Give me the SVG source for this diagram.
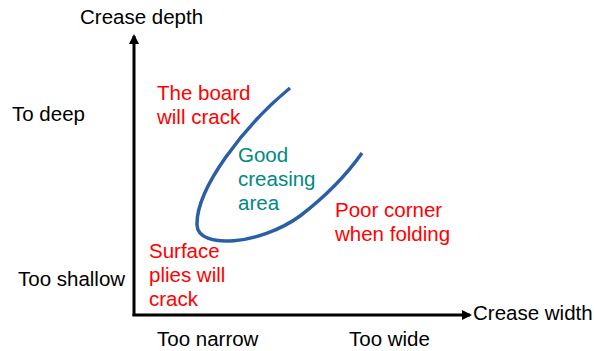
<svg xmlns="http://www.w3.org/2000/svg" width="594" height="351" viewBox="0 0 594 351">
<style>
text{font-family:"Liberation Sans",Arial,sans-serif;font-size:20.5px}
.k{fill:#000}
.r{fill:#ff0000}
.g{fill:#008a80}
</style>
<defs>
<marker id="ah" markerWidth="10" markerHeight="10" refX="8" refY="5" orient="auto" markerUnits="userSpaceOnUse" viewBox="0 0 10 10">
<path d="M0,0 L10,5 L0,10 z" fill="#000"/>
</marker>
</defs>
<rect width="594" height="351" fill="#fff"/>
<g id="connectors">
<path d="M134,316 L134,36" stroke="#000" stroke-width="3" fill="none" marker-end="url(#ah)"/>
<path d="M132.5,315 L470,315" stroke="#000" stroke-width="3" fill="none" marker-end="url(#ah)"/>
</g>
<g id="curve">
<path d="M290,88 C245,125 196,188 197,225 C198,250 260,245 300,216 C330,193 350,170 362,153" stroke="#2a5fa8" stroke-width="3.5" fill="none"/>
</g>
<g id="axis-labels">
<text class="k" x="80" y="24">Crease depth</text>
<text class="k" x="473" y="320">Crease width</text>
<text class="k" x="12" y="121">To deep</text>
<text class="k" x="18" y="286">Too shallow</text>
<text class="k" x="157" y="346">Too narrow</text>
<text class="k" x="349" y="346">Too wide</text>
</g>
<g id="board-crack">
<text class="r" x="157" y="100">The board</text>
<text class="r" x="157" y="124">will crack</text>
</g>
<g id="good-area">
<text class="g" x="238" y="162">Good</text>
<text class="g" x="238" y="186">creasing</text>
<text class="g" x="238" y="210">area</text>
</g>
<g id="poor-corner">
<text class="r" x="335" y="217">Poor corner</text>
<text class="r" x="335" y="241">when folding</text>
</g>
<g id="surface-plies">
<text class="r" x="149" y="258">Surface</text>
<text class="r" x="149" y="282">plies will</text>
<text class="r" x="149" y="306">crack</text>
</g>
</svg>
